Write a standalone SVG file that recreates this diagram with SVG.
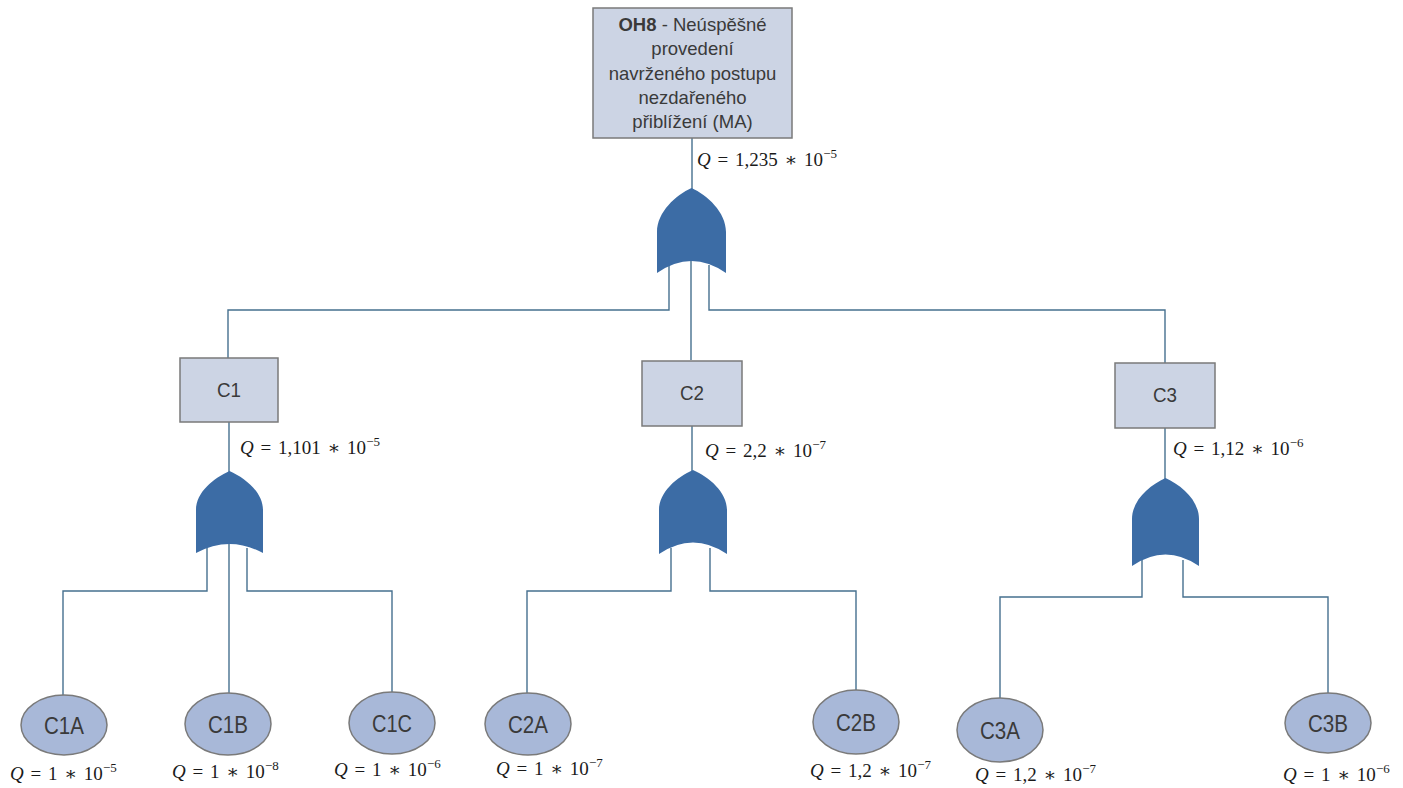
<svg xmlns="http://www.w3.org/2000/svg" width="1403" height="788" viewBox="0 0 1403 788">
  <style>
    .box { fill: #ccd4e4; stroke: #7a7a7a; stroke-width: 1.5; }
    .evt { fill: #a8b8d8; stroke: #7a7a7a; stroke-width: 1.5; }
    .gate { fill: #3c6ca5; stroke: none; }
    .wire { fill: none; stroke: #46708f; stroke-width: 1.4; }
    .lbl { font-family: "Liberation Sans", Arial, sans-serif; fill: #3a3a3a; text-anchor: middle; }
    .q { font-family: "Liberation Serif", "DejaVu Serif", serif; font-size: 19px; fill: #1a1a1a; word-spacing: 2px; }
    .q .v { font-style: italic; }
    .q .sup { font-size: 13px; }
  </style>

  <!-- connectors -->
  <g id="connectors">
    <path class="wire" d="M692,138 V190"/>
    <path class="wire" d="M669,265 V310 H228 V358"/>
    <path class="wire" d="M691,258 V360"/>
    <path class="wire" d="M709,265 V310 H1165 V363"/>
    <path class="wire" d="M229,422 V472"/>
    <path class="wire" d="M692,426 V471"/>
    <path class="wire" d="M1165,428 V479"/>
    <path class="wire" d="M207,548 V591 H63 V695"/>
    <path class="wire" d="M229,543 V693"/>
    <path class="wire" d="M247,548 V591 H392 V692"/>
    <path class="wire" d="M671,548 V591 H527 V693"/>
    <path class="wire" d="M710,548 V591 H856 V690"/>
    <path class="wire" d="M1142,560 V597 H1000 V698"/>
    <path class="wire" d="M1183,560 V597 H1328 V693"/>
  </g>

  <!-- top event -->
  <g id="OH8">
    <rect class="box" x="593" y="8" width="199" height="130"/>
    <text class="lbl" font-size="18.5" x="692.5" y="31"><tspan font-weight="bold">OH8</tspan> - Neúspěšné</text>
    <text class="lbl" font-size="18.5" x="692.5" y="55">provedení</text>
    <text class="lbl" font-size="18.5" x="692.5" y="80">navrženého postupu</text>
    <text class="lbl" font-size="18.5" x="692.5" y="104">nezdařeného</text>
    <text class="lbl" font-size="18.5" x="692.5" y="128">přiblížení (MA)</text>
  </g>
  <text class="q" x="697" y="166" xml:space="preserve"><tspan class="v">Q</tspan> = 1,235 ∗ 10<tspan class="sup" dy="-8">−5</tspan></text>

  <!-- OR gates -->
  <g id="gate-top">
    <path class="gate" d="M691.5,188 C707,195 726,212 726,232 L726,273 Q691.5,249 657,273 L657,232 C657,212 676,195 691.5,188 Z"/>
  </g>
  <g id="gate-C1">
    <path class="gate" d="M229.5,471 C245,478 263,492 263,510 L263,553 Q229.5,535 196,553 L196,510 C196,492 214,478 229.5,471 Z"/>
  </g>
  <g id="gate-C2">
    <path class="gate" d="M693,470 C709,477 727,492 727,510 L727,554 Q693,531 659,554 L659,510 C659,492 677,477 693,470 Z"/>
  </g>
  <g id="gate-C3">
    <path class="gate" d="M1165.5,478 C1181,485 1199,500 1199,519 L1199,566 Q1165.5,543 1132,566 L1132,519 C1132,500 1150,485 1165.5,478 Z"/>
  </g>

  <!-- intermediate events -->
  <g id="C1">
    <rect class="box" x="180" y="358" width="98" height="64"/>
    <text class="lbl" font-size="20" x="229" y="397" textLength="24" lengthAdjust="spacingAndGlyphs">C1</text>
  </g>
  <text class="q" x="240" y="454" xml:space="preserve"><tspan class="v">Q</tspan> = 1,101 ∗ 10<tspan class="sup" dy="-8">−5</tspan></text>

  <g id="C2">
    <rect class="box" x="642" y="361" width="100" height="65"/>
    <text class="lbl" font-size="20" x="692" y="400" textLength="24" lengthAdjust="spacingAndGlyphs">C2</text>
  </g>
  <text class="q" x="705" y="457" xml:space="preserve"><tspan class="v">Q</tspan> = 2,2 ∗ 10<tspan class="sup" dy="-8">−7</tspan></text>

  <g id="C3">
    <rect class="box" x="1115" y="363" width="100" height="65"/>
    <text class="lbl" font-size="20" x="1165" y="402" textLength="24" lengthAdjust="spacingAndGlyphs">C3</text>
  </g>
  <text class="q" x="1173" y="455" xml:space="preserve"><tspan class="v">Q</tspan> = 1,12 ∗ 10<tspan class="sup" dy="-8">−6</tspan></text>

  <!-- basic events -->
  <g id="C1A">
    <ellipse class="evt" cx="64" cy="725" rx="43" ry="30"/>
    <text class="lbl" font-size="24" x="64" y="734" textLength="40" lengthAdjust="spacingAndGlyphs">C1A</text>
  </g>
  <text class="q" x="10" y="780" xml:space="preserve"><tspan class="v">Q</tspan> = 1 ∗ 10<tspan class="sup" dy="-8">−5</tspan></text>

  <g id="C1B">
    <ellipse class="evt" cx="228" cy="724" rx="43" ry="31"/>
    <text class="lbl" font-size="24" x="228" y="733" textLength="40" lengthAdjust="spacingAndGlyphs">C1B</text>
  </g>
  <text class="q" x="172" y="778" xml:space="preserve"><tspan class="v">Q</tspan> = 1 ∗ 10<tspan class="sup" dy="-8">−8</tspan></text>

  <g id="C1C">
    <ellipse class="evt" cx="392" cy="723" rx="43" ry="31"/>
    <text class="lbl" font-size="24" x="392" y="732" textLength="40" lengthAdjust="spacingAndGlyphs">C1C</text>
  </g>
  <text class="q" x="334" y="776" xml:space="preserve"><tspan class="v">Q</tspan> = 1 ∗ 10<tspan class="sup" dy="-8">−6</tspan></text>

  <g id="C2A">
    <ellipse class="evt" cx="528" cy="724" rx="43" ry="31"/>
    <text class="lbl" font-size="24" x="528" y="733" textLength="40" lengthAdjust="spacingAndGlyphs">C2A</text>
  </g>
  <text class="q" x="496" y="775" xml:space="preserve"><tspan class="v">Q</tspan> = 1 ∗ 10<tspan class="sup" dy="-8">−7</tspan></text>

  <g id="C2B">
    <ellipse class="evt" cx="856" cy="722" rx="43" ry="32"/>
    <text class="lbl" font-size="24" x="856" y="731" textLength="40" lengthAdjust="spacingAndGlyphs">C2B</text>
  </g>
  <text class="q" x="810" y="777" xml:space="preserve"><tspan class="v">Q</tspan> = 1,2 ∗ 10<tspan class="sup" dy="-8">−7</tspan></text>

  <g id="C3A">
    <ellipse class="evt" cx="1000" cy="730" rx="43" ry="32"/>
    <text class="lbl" font-size="24" x="1000" y="739" textLength="40" lengthAdjust="spacingAndGlyphs">C3A</text>
  </g>
  <text class="q" x="975" y="781" xml:space="preserve"><tspan class="v">Q</tspan> = 1,2 ∗ 10<tspan class="sup" dy="-8">−7</tspan></text>

  <g id="C3B">
    <ellipse class="evt" cx="1328" cy="723" rx="43" ry="30"/>
    <text class="lbl" font-size="24" x="1328" y="732" textLength="40" lengthAdjust="spacingAndGlyphs">C3B</text>
  </g>
  <text class="q" x="1283" y="781" xml:space="preserve"><tspan class="v">Q</tspan> = 1 ∗ 10<tspan class="sup" dy="-8">−6</tspan></text>
</svg>
